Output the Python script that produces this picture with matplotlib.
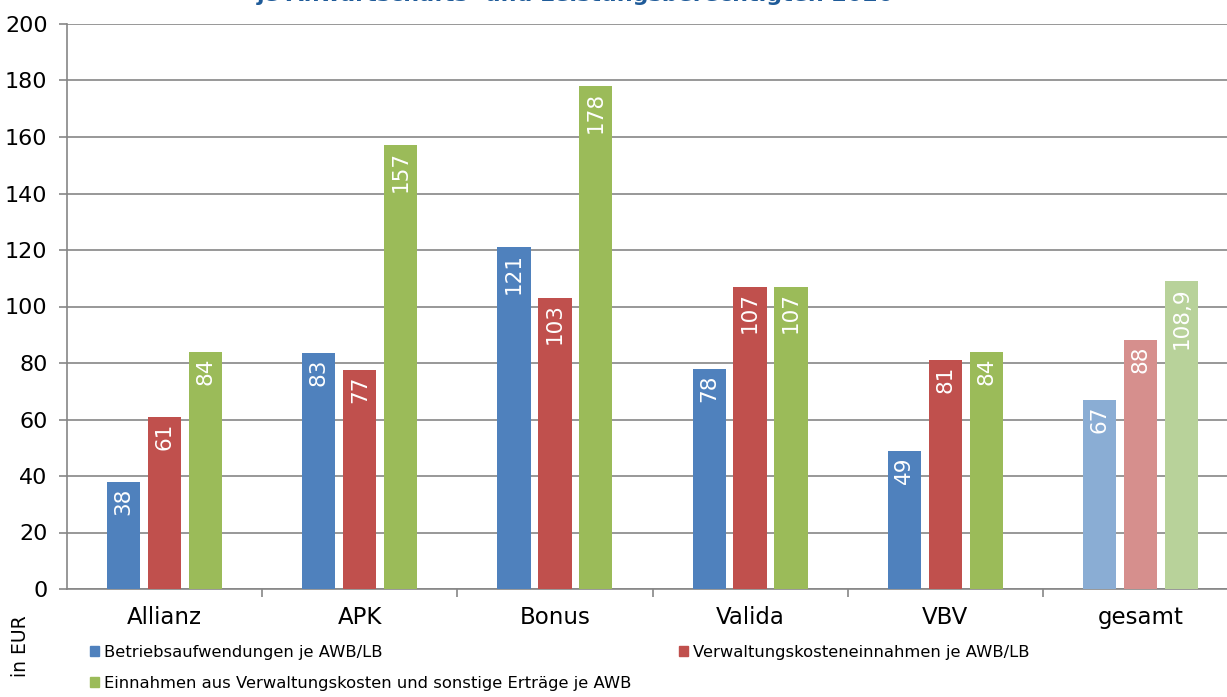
import numpy as np
import matplotlib
matplotlib.use("Agg")
import matplotlib.pyplot as plt
from matplotlib.patches import Patch

categories = ["Allianz", "APK", "Bonus", "Valida", "VBV", "gesamt"]
betrieb = [38, 83.5, 121, 78, 49, 67]
verwaltung = [61, 77.5, 103, 107, 81, 88]
einnahmen = [84, 157, 178, 107, 84, 108.9]
betrieb_lbl = ["38", "83", "121", "78", "49", "67"]
verwaltung_lbl = ["61", "77", "103", "107", "81", "88"]
einnahmen_lbl = ["84", "157", "178", "107", "84", "108,9"]
series_names = [
    "Betriebsaufwendungen je AWB/LB",
    "Verwaltungskosteneinnahmen je AWB/LB",
    "Einnahmen aus Verwaltungskosten und sonstige Erträge je AWB",
]
title = "je Anwartschafts- und Leistungsberechtigten 2020"

colors = ["#4F81BD", "#C0504D", "#9BBB59"]
colors_light = ["#8AADD4", "#D68F8D", "#B8D29A"]

plt.rcParams['font.family'] = ['DejaVu Sans']

fig = plt.figure(figsize=(12.27, 6.97), dpi=100)
ax = fig.add_axes([67 / 1227, 108 / 697, 1171 / 1227, 565 / 697])

x = np.arange(len(categories))
width = 0.17
step = 0.21
series = [betrieb, verwaltung, einnahmen]
labels = [betrieb_lbl, verwaltung_lbl, einnahmen_lbl]

for i, (vals, lbls) in enumerate(zip(series, labels)):
    pos = x + (i - 1) * step
    cols = [colors[i]] * (len(categories) - 1) + [colors_light[i]]
    ax.bar(pos, vals, width, color=cols, zorder=3)
    for px, v, t in zip(pos, vals, lbls):
        ax.annotate(t, (px, v), xytext=(0, -4), textcoords="offset points",
                    ha="center", va="top", rotation=90, color="white",
                    fontsize=15.5, zorder=4)

ax.set_xlim(-0.5, len(categories) - 0.5)
ax.set_ylim(0, 200)
ax.set_yticks(range(0, 201, 20))
ax.set_xticks(x)
ax.set_xticklabels(categories)
ax.set_xticks(np.arange(0.5, len(categories) - 0.5, 1), minor=True)

gray = "#868686"
ax.grid(axis="y", color=gray, linewidth=1.2, zorder=0)
for s in ["top", "right"]:
    ax.spines[s].set_visible(False)
for s in ["left", "bottom"]:
    ax.spines[s].set_color(gray)
    ax.spines[s].set_linewidth(1.2)

ax.tick_params(axis="y", labelsize=16, length=6, color=gray, width=1.2, pad=8)
ax.tick_params(axis="x", which="major", labelsize=16.5, length=0, pad=12)
ax.tick_params(axis="x", which="minor", length=6, color=gray, width=1.2)

# title is cut at the top edge, as in the original export
fig.text(576 / 1227, 1 - 1 / 697, title, ha="center", va="baseline",
         fontsize=16, fontweight="bold", color="#1F5B99")

fig.text(20 / 1227, 1 - 646 / 697, "in EUR", rotation=90, ha="center",
         va="center", fontsize=13.5)

handles = [Patch(color=colors[0]), Patch(color=colors[2]), Patch(color=colors[1])]
names = [series_names[0], series_names[2], series_names[1]]
fig.legend(handles, names, ncol=2, loc="upper left",
           bbox_to_anchor=(90 / 1227, 1 - 645 / 697), frameon=False,
           fontsize=11.8, handlelength=0.55, handleheight=0.55,
           handletextpad=0.3, columnspacing=2.9, labelspacing=0.95,
           borderaxespad=0, borderpad=0)

fig.savefig("out.png", dpi=100)
